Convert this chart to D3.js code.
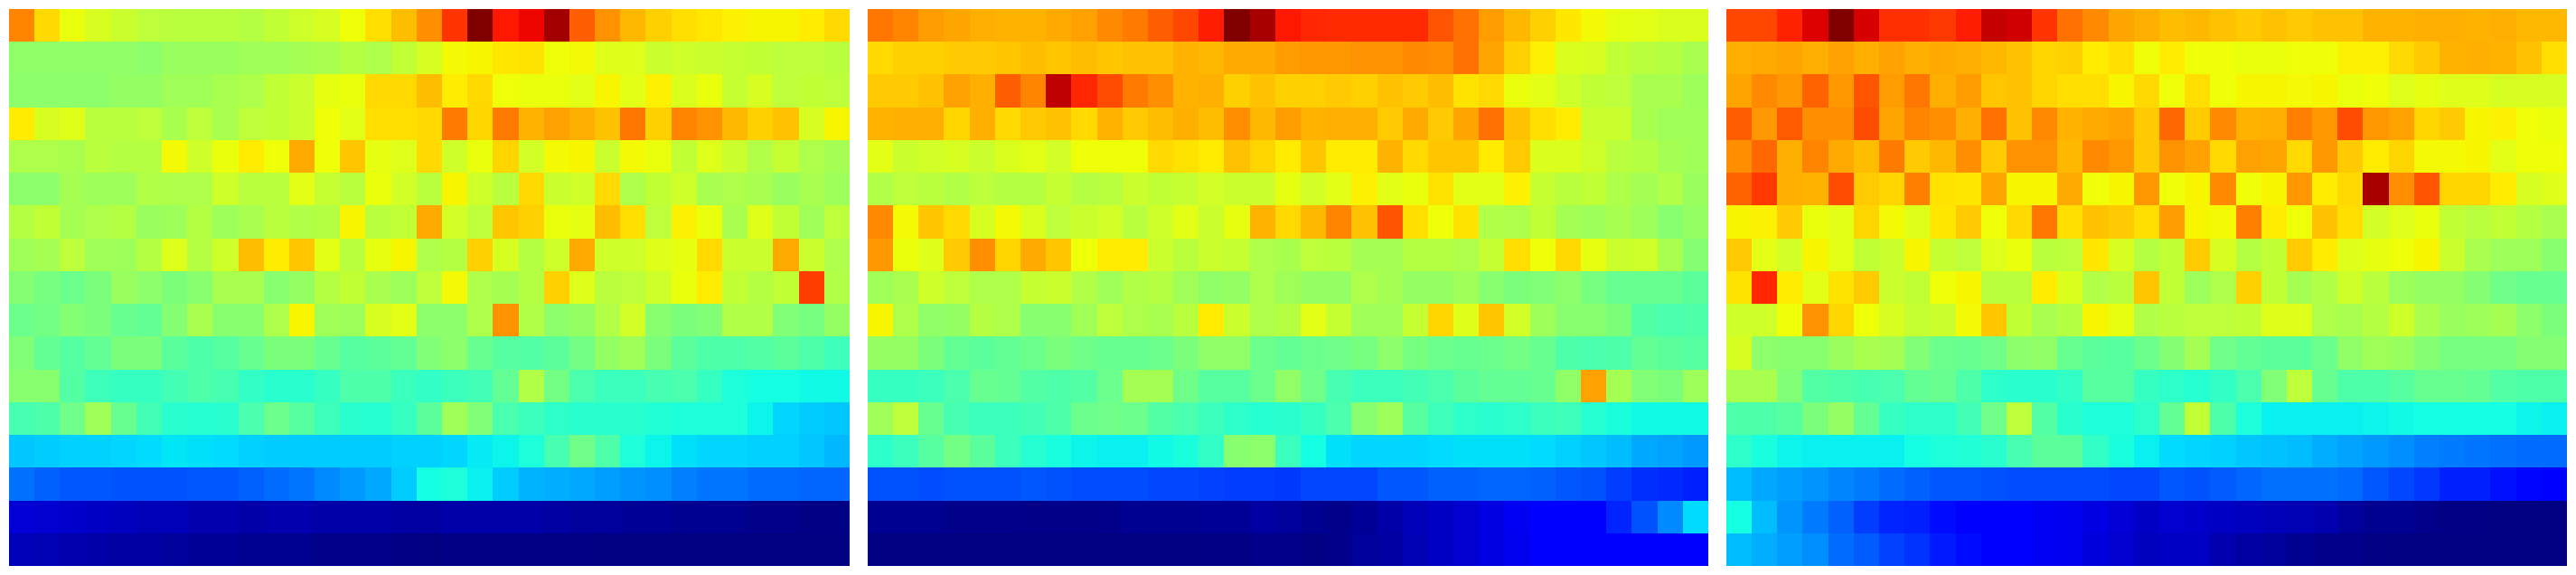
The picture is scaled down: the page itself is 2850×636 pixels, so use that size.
<!DOCTYPE html>
<html><head><meta charset="utf-8">
<style>html,body{margin:0;padding:0;background:#fff}svg{display:block}</style>
<script src="https://cdnjs.cloudflare.com/ajax/libs/d3/7.8.5/d3.min.js"></script>
</head><body>
<script>
const panelA = [
[77,68,63.5,61,59.5,58,57.5,57.5,57.5,57,58.5,60,61,64,67.5,71,76, 85.5,100,88.5,90.5,97,81,75.5,71.5,69,67.5,66.5,65.5,65,65,66,68],
[52.5,52.5,52.5,52.5,52.5,52,53.5,53.5,53.5,54.5,54.5,55,55.5,57,56,58.5,61, 64.5,65,66.5,67,64,64.5,62,62,59.5,60,59.5,59,58.5,58,58,57.5],
[52,52,52,52,53,53,54.5,54.5,55.5,56,58.5,59.5,63,63.5,68,68,71, 66,68,64,63.5,63.5,62.5,65,62.5,65.5,61.5,63.5,59,61,58,58.5,58],
[66,61,62,57.5,57.5,58,55.5,58,55.5,58,58.5,59.5,64,62.5,67.5,67.5,68, 78,68.5,78,72,74,72.5,70.5,78.5,69,77,75.5,71.5,69,70.5,61,65],
[56,56,55.5,57.5,57,57,64.5,60,63.5,66,64,73,64,70,63,62,68, 60,63.5,68.5,60.5,64.5,65,59.5,64.5,63.5,58.5,62,59.5,56.5,59,56,55],
[52,52,55,54,54,56.5,56,56,60,57.5,57.5,62.5,59,57.5,63.5,60.5,57.5, 65,60,57.5,68,59.5,60,68,56,58.5,60,55.5,56,55.5,53.5,55.5,54],
[57,58.5,55,56,57,53.5,54,57,54,55.5,57.5,56.5,57,65,57.5,58.5,73, 60.5,58,70,69,63.5,63,71,67.5,58,65.5,63.5,55.5,62,58.5,54.5,58],
[54.5,55,58,54.5,54,57,62,57,60,71,66,70,62.5,57.5,63,65,56, 57,69,61,57,60,73,60,60,62,63,68,59.5,59.5,73,59.5,56],
[51,49.5,48,50,53.5,52,50,51.5,55.5,55.5,51.5,53,57,58.5,55.5,54,58, 64.5,56,55,57,69,62,57.5,58,60,63.5,66,58.5,57,58.5,84.5,56.5],
[48,49,51,50,47.5,47,51,55.5,51.5,51.5,56,65,54.5,54,61,62.5,52, 52,56,75.5,56.5,52,53,56.5,60.5,51.5,50,50.5,56.5,56.5,50.5,49.5,53],
[50.5,47,45.5,47,50,50,46,44.5,45.5,47.5,50,50,47.5,45.5,46,47,50.5, 52,47.5,45.5,45,46,49,53,54.5,50,46,44.5,44.5,45,46,44.5,42.5],
[51.5,51.5,45,42.5,41.5,41.5,43,44.5,43.5,41,40,40,41.5,44.5,44.5,42,41, 42,43,47,56.5,49,44,42,42,43.5,44,41.5,38.5,37.5,37.5,37,37],
[43.5,44.5,48.5,54.5,47.5,43,40,39.5,40,44,48,45.5,42.5,40,39.5,41.5,46, 54.5,50.5,44,42,40.5,40,40,40,39,38.5,38.5,38.5,36.5,33.5,32.5,32],
[32,32.5,33,33,33.5,34,35,34.5,34,33,32.5,32.5,32.5,32.5,32.5,33,33, 33.5,35.5,36.5,38.5,43.5,48.5,44.5,38.5,36.5,34.5,33.5,33.5,33,33,32,30.5],
[23.5,22,21,21,20.5,20.5,20.5,21,21,22,23,24,26,27.5,29,32.5,37.5, 38.5,36,32.5,30,29.5,29,28,27,26.5,25,24,24,23,23,22.5,22.5],
[7.5,7,6.5,6,5.5,5,5,4,4,3.5,4,4,3.5,3.5,3.5,3,3, 3.5,3.5,3.5,3.5,3,2.5,2.5,2,2,1.5,1.5,1.5,1,1,0.5,0.5],
[5,4.5,4,3.5,3,3,2.5,2,2,1.5,1.5,1.5,1,1,1,0.5,0, 0.5,0.5,0.5,0.5,0.5,0.5,0.3,0.3,0.3,0.3,0,0,0,0,0,0]
];
const panelB = [
[78.5,77,74.5,73.5,72.5,72,72,73,74,76.5,78,81,83.5,88,100,96.5,88.5, 87,86.5,86.5,86.5,86.5,82,79,74.5,71.5,69,66.5,64.5,63,62.5,61.5,61.5],
[68,69,69,69.5,69.5,70,71,70,71,70,70.5,70.5,72,71.5,73,73,74.5, 75,75,75.5,75.5,76.5,76,79,73.5,69,65.5,61.5,61,58.5,57.5,57,55.5],
[69.5,69.5,70.5,74,72.5,81,77,94.5,87,83,78,76,72,72.5,69,70.5,69, 69,69.5,69,70.5,69.5,71,67,68,63.5,62.5,60,58.5,58,55.5,55.5,54],
[72,72.5,72.5,68.5,72.5,68,69.5,70.5,68,72,69.5,71,72.5,71,76,71.5,74.5, 72,72.5,72.5,69.5,73,69.5,73.5,79,70.5,67.5,66,59.5,59.5,55.5,54.5,54.5],
[62.5,59.5,60.5,61,59.5,61.5,62.5,60.5,64,64,64,68,67,66,70.5,68.5,66, 70,66,66,72,68,70,70,66,69.5,61.5,61.5,60,57.5,57,55,54.5],
[56.5,58,57.5,56.5,58,57,57,59,57,57.5,59.5,58.5,59,60.5,59.5,59.5,63, 60.5,62.5,65.5,62.5,63.5,67,62.5,62.5,65.5,59,57.5,58.5,56,55,56.5,53.5],
[76.5,64.5,70,68,61,64.5,61.5,58,59.5,60.5,57.5,60,62.5,59.5,63,72,68, 71.5,77,70.5,82,67.5,64,67,56.5,56,58.5,55,54,55.5,54,51.5,53],
[75,63.5,62,69.5,76,68.5,73,70,64,66,66,59.5,57.5,59.5,59,56,55.5, 58,57.5,55,55,57,57,56,59,67.5,64,68,63,59.5,60,55.5,51],
[54.5,55.5,60,58,56,56,59,59.5,56.5,54.5,56.5,57,54.5,52.5,53,56,54.5, 53,53,56,55,53,53,54.5,51.5,50,50.5,52,49.5,47.5,47.5,47.5,46],
[65,56,52.5,53,57,56,51.5,51.5,54.5,58,56,55.5,57.5,66,59.5,56,57, 62.5,59,54.5,54.5,59,68.5,62,70,60.5,54,51.5,51.5,50,45,44,44.5],
[53,53,50,47,46,47,48,50,48.5,47.5,47.5,48,50,52.5,52.5,48,47, 48,48.5,49.5,52,49.5,48,47.5,48,49,47.5,44.5,44,44.5,47,46,45.5],
[41.5,41.5,42,44,47.5,47,45,44.5,45,48,55,55,48.5,45.5,45.5,48,52.5, 48.5,43.5,42,42,43,44,46,47,47,47.5,52.5,74,55,50.5,50,54],
[54.5,58,47.5,43.5,42,42,43,44.5,48,48.5,48,45,44,42,40.5,39.5,40, 41.5,44,51.5,54,45.5,42.5,40.5,40,40.5,42,42.5,39.5,38,37,37,37],
[40.5,42,45.5,49,46,42,39.5,38,36.5,36,36,37,38,41,51.5,52,42, 37.5,34.5,33.5,33.5,33.5,34,34.5,34.5,34.5,34,33,32,31,29,28.5,27.5],
[20.5,20.5,20,20.5,20.5,20.5,21,20.5,20,20,20,19.5,19.5,19,18.5,18.5,18, 19.5,19.5,19.5,21,21,22,22,22.5,22.5,22,21,20.5,18.5,17,16.5,15.5],
[1.5,1.5,1.5,1,1,1,0.8,0.8,0.8,1,1.5,1.5,1.5,2,2,3,2.5, 1.5,1,2,3.5,5,6,7,8.5,10,11.5,12,12.5,16,20.5,26,34],
[0,0,0,0,0,0,0,0,0,0,0,0.3,0.3,0.5,0.5,1,1, 0.3,1,2.5,3,4.5,6,7,8.5,9.5,11,12,12.5,12.5,12.5,12.5,12.5]
];
const panelC = [
[83.5,83.5,87.5,92,100,92.5,86,86,85,88,94,93,85.5,79,76.5,73.5,72.5, 71,71.5,70.5,69.5,70.5,69.5,70.5,70.5,72,72,72.5,72.5,72,72.5,71.5,71.5],
[72.5,73,73.5,72.5,74,72.5,74,72.5,73,72.5,71.5,70.5,68.5,69,66,67.5,64, 66,64,64,63.5,63.5,64,64,65.5,65.5,68,69.5,72,72.5,72,70.5,67.5],
[73.5,76.5,75,80.5,75,82,74.5,78.5,72.5,74.5,70,70.5,68.5,67.5,67.5,65,68, 64,67.5,64,65,65,64.5,65,63.5,64,62,63,62,62,61,61,61],
[81,75,81.5,76,76,83,73.5,77,76,72.5,79,70.5,76.5,72,73,74,69.5, 80,69.5,76.5,72,72.5,77.5,75,83,75,74,68.5,69.5,65,65.5,64,63.5],
[76,80,72.5,77,73,71,78,69.5,71.5,76,69.5,75.5,75.5,71.5,76.5,75,69.5, 75.5,74,68,74,73.5,68,75,69.5,66,68.5,64.5,64.5,65,62.5,64,64],
[80.5,85,72.5,72,83,69.5,68.5,77.5,67,66.5,73.5,65,65,73,64,65,75, 64,65,76.5,64,65,75,66,68,96.5,76,82,68.5,68.5,66,61,62],
[65,65.5,69.5,63.5,62.5,68.5,64.5,62,66.5,69.5,64,68,78.5,67.5,70.5,69.5,67.5, 74.5,65,64.5,77.5,66,64,70.5,67.5,60.5,62,63.5,58.5,57.5,58.5,57,55.5],
[69.5,62.5,60.5,65,62.5,58.5,59.5,65,59,58,62,63.5,57.5,58,66.5,61,57, 58.5,69.5,61,57,58.5,69.5,66,62,63,64,65,59.5,55.5,54,54,51.5],
[67,87,66,62.5,67,69.5,59.5,58.5,64,65,57.5,57.5,66,61.5,56.5,57.5,70, 58.5,54,56,69,58.5,55,56.5,60,57.5,54,53,53,51,48.5,47.5,47.5],
[60,60,64,75.5,68.5,64,61,59,59.5,64.5,70,58.5,55.5,57,65,63,56.5, 57.5,58,58,58.5,62,62,56,55.5,57,60,55.5,53.5,54,55,52,50],
[61,52,51.5,51.5,53.5,55.5,55,50.5,48,47.5,48.5,52,52.5,47.5,46,45.5,48, 51,55,48.5,47,46,46,48,52.5,54.5,53.5,51,49.5,49.5,49.5,51,51],
[55.5,55.5,50.5,45,44.5,43.5,44,47,47.5,44.5,40.5,40,40,41,45.5,45.5,41.5, 40.5,39.5,41,44,50.5,58,47.5,44.5,44.5,45.5,47.5,47.5,47,45,44.5,44.5],
[44.5,44.5,45.5,50,53,47,41.5,40.5,40.5,43,48.5,58,45,40,38.5,38.5,40.5, 47,58.5,44.5,38.5,36,36,36,36,36.5,37,37.5,37.5,37.5,37.5,36.5,36],
[40.5,38,36.5,36,36,36,36,37.5,38.5,39,40,43.5,46,46,41,38,36, 34,33.5,33,32,31.5,31,29.5,28.5,27.5,26.5,25,24.5,24,23.5,23,23],
[31,29,28,27,25.5,24.5,23,22,21,21,20.5,20,20,20,20,19.5,19.5, 21,20.5,21.5,22.5,23.5,23.5,23.5,23,21,19.5,18,15.5,15.5,14,13,12],
[37.5,31,27,24.5,22,18.5,16,15.5,13.5,12,11.5,11.5,10,9.5,8.5,7.5,6, 7,6.5,6,5.5,5,4.5,4,2.5,1.5,1.5,1,0.5,0.5,0,0,0],
[31,29.5,28,26.5,23,21.5,19,17.5,15,13.5,12,11.5,10,9.5,8,7,5.5, 6,6,4,3,2.5,1.5,1,1,0.5,0.3,0,0,0,0,0,0]
];
const panels = [panelA, panelB, panelC];

const W = 2850, H = 636, panelStep = 950;
const svg = d3.select("body").append("svg").attr("width", W).attr("height", H);

const x = d3.scaleBand().domain(d3.range(33)).range([9.9, 939.9]);
const y = d3.scaleBand().domain(d3.range(17)).range([10, 626]);

const red = d3.scaleLinear().domain([0, 35, 66, 89, 100]).range([0, 0, 255, 255, 127.5]);
const green = d3.scaleLinear().domain([0, 12.5, 37.5, 64, 91, 100]).range([0, 0, 255, 255, 0, 0]);
const blue = d3.scaleLinear().domain([0, 11, 34, 65, 100]).range([127.5, 255, 255, 0, 0]);
const jet = v => d3.rgb(red(v), green(v), blue(v)).formatHex();

panels.forEach((rows, p) => {
  const g = svg.append("g").attr("transform", `translate(${p * panelStep},0)`);
  const cells = rows.flatMap((row, r) => row.map((v, c) => ({r, c, v})));
  g.selectAll("rect").data(cells).join("rect")
    .attr("x", d => Math.round(x(d.c)))
    .attr("y", d => Math.round(y(d.r)))
    .attr("width", d => Math.round(x(d.c) + x.bandwidth()) - Math.round(x(d.c)))
    .attr("height", d => Math.round(y(d.r) + y.bandwidth()) - Math.round(y(d.r)))
    .attr("shape-rendering", "crispEdges")
    .attr("fill", d => jet(d.v));
});
</script>
</body></html>
